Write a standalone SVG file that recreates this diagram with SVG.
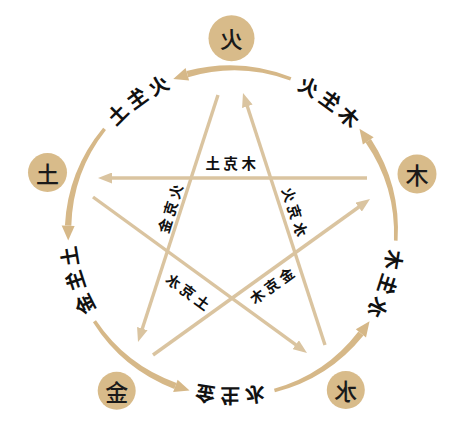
<svg xmlns="http://www.w3.org/2000/svg" width="474" height="441" viewBox="0 0 474 441">
<defs>
<style>
.arc{fill:#D6B888;}
.ke{stroke:#DAC4A0;stroke-width:3.4;fill:none;marker-end:url(#kh);}
.node{fill:#D8BB8A;}
.nl{font-family:"Noto Sans CJK SC","Noto Sans",sans-serif;font-size:23px;font-weight:500;fill:#1a1a1a;text-anchor:middle;dominant-baseline:central;}
.sl{font-family:"Noto Sans CJK SC","Noto Sans",sans-serif;font-size:20px;font-weight:700;fill:#111;letter-spacing:4px;text-anchor:middle;}
.kl{font-family:"Noto Sans CJK SC","Noto Sans",sans-serif;font-size:14.5px;font-weight:600;fill:#111;letter-spacing:3.5px;text-anchor:middle;dominant-baseline:central;}
</style>
<marker id="kh" markerUnits="userSpaceOnUse" viewBox="0 0 14 11" markerWidth="14" markerHeight="11" refX="8" refY="5.5" orient="auto"><path d="M0,0 L14,5.5 L0,11 Z" fill="#DAC4A0"/></marker>
<path id="ring" d="M85.5 232 A156.5 156.5 0 1 1 398.5 232 A156.5 156.5 0 1 1 85.5 232" fill="none"/>
</defs>
<rect width="474" height="441" fill="#ffffff"/>
<g transform="matrix(-1 0 0 1 474 0)">
 <g id="connectors">
  <g id="sheng-arcs">
   <path class="arc" d="M182.58 77.21 A166.5 166.5 0 0 1 287.53 71.12 L285.78 77.27 A161.5 161.5 0 0 0 183.87 80.57 Z"/>
   <polygon class="arc" points="300.77,78.89 288.42,67.94 284.88,80.45"/>
   <path class="arc" d="M370.85 127.66 A166.5 166.5 0 0 1 409.08 225.58 L402.68 225.83 A161.5 161.5 0 0 0 368.05 129.92 Z"/>
   <polygon class="arc" points="405.78,240.58 412.37,225.45 399.38,225.95"/>
   <path class="arc" d="M381.05 322.30 A166.5 166.5 0 0 1 299.73 388.92 L297.52 382.91 A161.5 161.5 0 0 0 378.03 320.34 Z"/>
   <polygon class="arc" points="284.45,390.41 300.87,392.01 296.38,379.81"/>
   <path class="arc" d="M199.09 392.15 A166.5 166.5 0 0 1 110.57 335.40 L115.60 331.40 A161.5 161.5 0 0 0 200.02 388.67 Z"/>
   <polygon class="arc" points="104.46,321.32 107.98,337.44 118.20,329.36"/>
   <path class="arc" d="M76.43 240.68 A166.5 166.5 0 0 1 103.07 138.99 L108.41 142.55 A161.5 161.5 0 0 0 80.02 240.49 Z"/>
   <polygon class="arc" points="114.55,128.79 100.33,137.15 111.13,144.38"/>
  </g>
  <g id="ke-lines">
   <line class="ke" x1="256" y1="95" x2="334.15" y2="336.29"/>
   <line class="ke" x1="149" y1="345" x2="229.14" y2="98.71"/>
   <line class="ke" x1="107" y1="178" x2="370" y2="178"/>
   <line class="ke" x1="381" y1="197" x2="171.85" y2="349.47"/>
   <line class="ke" x1="321" y1="355" x2="108.87" y2="202.5"/>
  </g>
  <g id="sheng-labels">
   <text class="sl"><textPath href="#ring" startOffset="147.5">木生火</textPath></text>
   <text class="sl"><textPath href="#ring" startOffset="344.2">火生土</textPath></text>
   <text class="sl"><textPath href="#ring" startOffset="540.8">土生金</textPath></text>
   <text class="sl"><textPath href="#ring" startOffset="737.5">金生水</textPath></text>
   <text class="sl"><textPath href="#ring" startOffset="934.1">水生木</textPath></text>
  </g>
  <g id="ke-labels">
   <text class="kl" x="245" y="162.5">木克土</text>
   <text class="kl" transform="translate(305 210) rotate(72.5)">火克金</text>
   <text class="kl" transform="translate(179 210) rotate(-72)">水克火</text>
   <text class="kl" transform="translate(287 290) rotate(-36)">土克水</text>
   <text class="kl" transform="translate(204 286) rotate(36)">金克木</text>
  </g>
 </g>
 <g id="node-huo"><circle class="node" cx="242.5" cy="38.3" r="23"/><text class="nl" x="242.5" y="38.3">火</text></g>
 <g id="node-tu"><circle class="node" cx="426.5" cy="172.5" r="19.5"/><text class="nl" x="426.5" y="172.5">土</text></g>
 <g id="node-mu"><circle class="node" cx="57" cy="174" r="19.5"/><text class="nl" x="57" y="174">木</text></g>
 <g id="node-jin"><circle class="node" cx="357.3" cy="390.8" r="19"/><text class="nl" x="357.3" y="390.8">金</text></g>
 <g id="node-shui"><circle class="node" cx="128.2" cy="390" r="19"/><text class="nl" x="128.2" y="390">水</text></g>
</g>
</svg>
